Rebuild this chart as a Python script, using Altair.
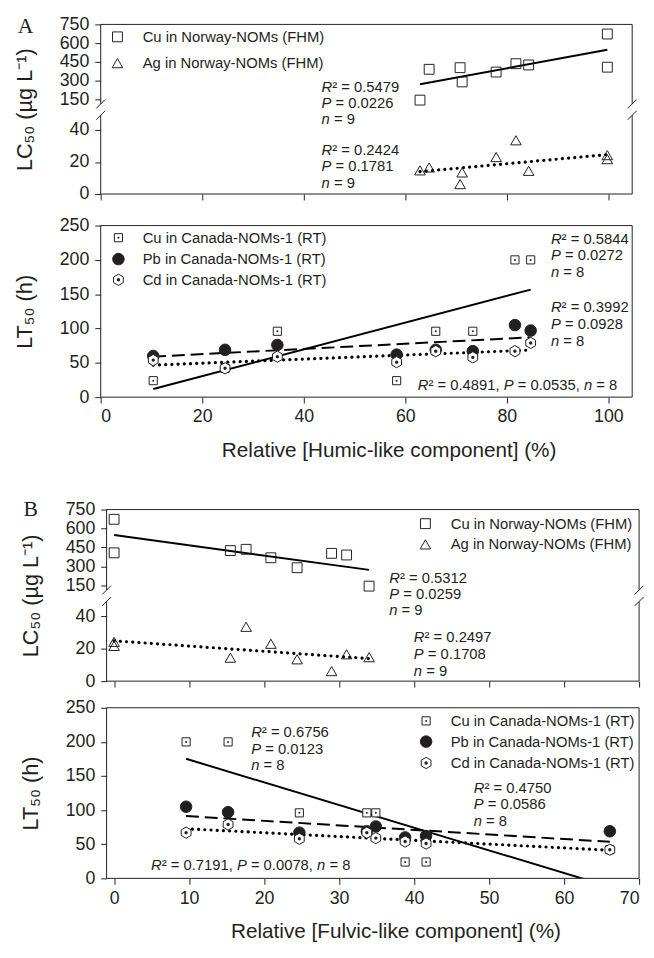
import altair as alt
import pandas as pd

# ---------------- data ----------------
norway_humic = [62.9, 64.7, 70.8, 71.2, 77.9, 81.8, 84.3, 99.8, 99.8]
norway_fulvic = [34.0, 31.0, 29.0, 24.4, 20.9, 17.6, 15.5, 0.0, 0.0]
norway_cu_lc50 = [143, 390, 403, 289, 368, 435, 425, 673, 407]
norway_ag_lc50 = [14.8, 16.6, 6.2, 13.5, 23.1, 33.6, 14.5, 24.3, 21.8]

canada_humic = [10.35, 24.5, 34.8, 58.3, 66.0, 73.3, 81.6, 84.7]
canada_fulvic = [38.8, 66.1, 34.9, 41.6, 33.7, 24.7, 9.6, 15.2]
canada_cu_lt50 = [24, 42, 96, 24, 96, 96, 200, 200]
canada_pb_lt50 = [60, 69, 76, 62, 69, 67, 105, 97]
canada_cd_lt50 = [54, 42, 59, 51, 67, 58, 67, 79]

legend_norway = ["Cu in Norway-NOMs (FHM)", "Ag in Norway-NOMs (FHM)"]
legend_canada = ["Cu in Canada-NOMs-1 (RT)", "Pb in Canada-NOMs-1 (RT)", "Cd in Canada-NOMs-1 (RT)"]

stats_a_cu = ["*R*² = 0.5479", "*P* = 0.0226", "*n* = 9"]
stats_a_ag = ["*R*² = 0.2424", "*P* = 0.1781", "*n* = 9"]
stats_a_lt_cu = ["*R*² = 0.5844", "*P* = 0.0272", "*n* = 8"]
stats_a_lt_pb = ["*R*² = 0.3992", "*P* = 0.0928", "*n* = 8"]
stats_a_lt_cd = ["*R*² = 0.4891, *P* = 0.0535, *n* = 8"]
stats_b_cu = ["*R*² = 0.5312", "*P* = 0.0259", "*n* = 9"]
stats_b_ag = ["*R*² = 0.2497", "*P* = 0.1708", "*n* = 9"]
stats_b_lt_cu = ["*R*² = 0.6756", "*P* = 0.0123", "*n* = 8"]
stats_b_lt_pb = ["*R*² = 0.4750", "*P* = 0.0586", "*n* = 8"]
stats_b_lt_cd = ["*R*² = 0.7191, *P* = 0.0078, *n* = 8"]

lc_ticks_low = [0, 20, 40]
lc_ticks_high = [150, 300, 450, 600, 750]
lt_ticks = [0, 50, 100, 150, 200, 250]
humic_ticks = [0, 20, 40, 60, 80, 100]
fulvic_ticks = [0, 10, 20, 30, 40, 50, 60, 70]

# ---------------- style / layout ----------------
FONT = "Liberation Sans"
SERIF = "Liberation Serif"
INK = "#231f20"
B_SHIFT = 6                      # panel B frame sits 6px right of panel A frame
W_A, W_B = 539, 546
H_A1, H_A2, H_B1, H_B2 = 172, 174, 174, 173
HUMIC_DOM = [0, 104.7]
FULVIC_DOM = [-1 - B_SHIFT / 7.61, 70]

# broken LC50 axis: display coordinate
LOW_K, HIGH_OFF, HIGH_K = 1.625, 96.3, 0.12667
BREAK_LOW, BREAK_HIGH = 80.0, 91.5


def disp(v):
    return v * LOW_K if v < 100 else HIGH_OFF + (v - 150) * HIGH_K


D_MAX = disp(lc_ticks_high[-1]) + 0.01
DISP_EXPR = f"datum.v < 100 ? datum.v * {LOW_K} : {HIGH_OFF} + (datum.v - 150) * {HIGH_K}"
LABEL_EXPR = (f"datum.value < 90 ? format(datum.value / {LOW_K}, '.0f') : "
              f"format(150 + (datum.value - {HIGH_OFF}) / {HIGH_K}, '.0f')")
lc_disp_ticks = [disp(v) for v in lc_ticks_low + lc_ticks_high]

HEX = "M0,-1L0.866,-0.5L0.866,0.5L0,1L-0.866,0.5L-0.866,-0.5Z"
M_SQ_OPEN = dict(shape="square", size=100, filled=False, stroke=INK, strokeWidth=1, opacity=1)
M_TRI = dict(shape="triangle-up", size=115, filled=False, stroke=INK, strokeWidth=1, opacity=1)
M_SQ_DOT = dict(shape="square", size=68, filled=True, fill="white", stroke=INK, strokeWidth=1, opacity=1)
M_CIRC = dict(shape="circle", size=137, filled=True, fill=INK, stroke=INK, strokeWidth=1, opacity=1)
M_HEX = dict(shape=HEX, size=130, filled=True, fill="white", stroke=INK, strokeWidth=1, opacity=1)
DOT_SQ = dict(shape="circle", size=4, filled=True, fill=INK, strokeWidth=0, opacity=1)
DOT_HEX = dict(shape="circle", size=12, filled=True, fill=INK, strokeWidth=0, opacity=1)

L_SOLID = dict(color="#000000", strokeWidth=2)
L_DASH = dict(color="#000000", strokeWidth=2, strokeDash=[13, 6])
L_DOT = dict(color="#000000", strokeWidth=3.2, strokeDash=[0.1, 6.2], strokeCap="round")

CW = {str(d): 0.556 for d in range(10)}
CW.update({".": 0.278, ",": 0.278, " ": 0.278, "=": 0.584, "R": 0.722, "P": 0.667, "n": 0.556, "²": 0.333})
FS_TXT = 15
NOVIEW = alt.ViewBackground(stroke="transparent")
Y_TITLE_PAD = 23


def tw(s, fs):
    return sum(CW.get(c, 0.556) for c in s) * fs


def parse(s):
    parts = s.split("*")
    return [(p, i % 2 == 1) for i, p in enumerate(parts) if p]


def stats_layers(x0, y0, lines, gap, fs=FS_TXT):
    rows = []
    for k, line in enumerate(lines):
        x = x0
        for seg, it in parse(line):
            lead = len(seg) - len(seg.lstrip(" "))
            trail = len(seg) - len(seg.rstrip(" "))
            core = seg.strip(" ")
            x += lead * CW[" "] * fs
            rows.append({"px": x, "py": y0 + k * gap, "t": core, "it": it})
            x += tw(core, fs) + trail * CW[" "] * fs
    df = pd.DataFrame(rows)
    out = []
    for it in (True, False):
        sub = df[df["it"] == it]
        if len(sub):
            out.append(alt.Chart(sub).mark_text(
                align="left", baseline="alphabetic", font=FONT, fontSize=fs,
                fontStyle="italic" if it else "normal", color=INK).encode(
                x=alt.X("px:Q", scale=None), y=alt.Y("py:Q", scale=None), text="t:N"))
    return out


def legend_layers(mx, tx, ys, labels, markers, dots):
    out = []
    for y, lab, mk, dt in zip(ys, labels, markers, dots):
        df = pd.DataFrame({"px": [mx], "tx": [tx], "py": [y], "t": [lab]})
        pos = dict(x=alt.X("px:Q", scale=None), y=alt.Y("py:Q", scale=None))
        out.append(alt.Chart(df).mark_point(**mk).encode(**pos))
        if dt:
            out.append(alt.Chart(df).mark_point(**dt).encode(**pos))
        out.append(alt.Chart(df).mark_text(align="left", baseline="middle", font=FONT,
                                           fontSize=FS_TXT, color=INK).encode(
            x=alt.X("tx:Q", scale=None), y=alt.Y("py:Q", scale=None), text="t:N"))
    return out


def frame(x0, W, H, broken):
    if broken:
        yt = H - BREAK_HIGH * H / D_MAX
        yb = H - BREAK_LOW * H / D_MAX
        s = 4.5
        rows = [(x0, W, 0, 0), (x0, W, H, H),
                (x0, x0, 0, yt), (x0, x0, yb, H), (W, W, 0, yt), (W, W, yb, H),
                (x0 - s, x0 + s, yt + s, yt - s), (x0 - s, x0 + s, yb + s, yb - s),
                (W - s, W + s, yt + s, yt - s), (W - s, W + s, yb + s, yb - s)]
    else:
        rows = [(x0, W, 0, 0), (x0, W, H, H), (x0, x0, 0, H), (W, W, 0, H)]
    df = pd.DataFrame(rows, columns=["x1", "x2", "y1", "y2"])
    return alt.Chart(df).mark_rule(color=INK, strokeWidth=1).encode(
        x=alt.X("x1:Q", scale=None), x2="x2:Q", y=alt.Y("y1:Q", scale=None), y2="y2:Q")


def panel_label(letter, px, py):
    df = pd.DataFrame({"px": [px], "py": [py], "t": [letter]})
    return alt.Chart(df).mark_text(align="left", baseline="top", font=SERIF,
                                   fontSize=22, color=INK).encode(
        x=alt.X("px:Q", scale=None), y=alt.Y("py:Q", scale=None), text="t:N")


def encodings(xdom, xaxis, ydom, yaxis, yfield):
    return dict(x=alt.X("x:Q", scale=alt.Scale(domain=xdom, nice=False, zero=False), axis=xaxis),
                y=alt.Y(f"{yfield}:Q", scale=alt.Scale(domain=ydom, nice=False, zero=False), axis=yaxis))


def series(x, v, enc, marker, line, broken, dot=None, clip_line=False):
    df = pd.DataFrame({"x": x, "v": v})
    lbase = alt.Chart(df).transform_regression("x", "v")
    pbase = alt.Chart(df)
    if broken:
        lbase = lbase.transform_calculate(d=DISP_EXPR)
        pbase = pbase.transform_calculate(d=DISP_EXPR)
    ln = lbase.mark_line(clip=clip_line, **line).encode(**enc)
    pts = [pbase.mark_point(**marker).encode(**enc)]
    if dot:
        pts.append(pbase.mark_point(**dot).encode(**enc))
    return ln, pts


def x_axis(ticks, title=None, title_x=None):
    kw = dict(values=ticks, tickSize=6, domain=False, grid=False, labelOverlap=False)
    if title:
        kw.update(title=title, titleX=title_x, titleAlign="center", titlePadding=14,
                  labelPadding=5, labelFontSize=18)
    else:
        kw.update(title=None, labels=False)
    return alt.Axis(**kw)


def y_lc_axis(x0):
    return alt.Axis(values=lc_disp_ticks, labelExpr=LABEL_EXPR, title="LC₅₀ (µg L⁻¹)", offset=-x0,
                    tickSize=6, domain=False, grid=False, labelPadding=6, titlePadding=Y_TITLE_PAD,
                    labelOverlap=False, labelBound=False, titleFontSize=22)


def y_lt_axis(x0):
    return alt.Axis(values=lt_ticks, title="LT₅₀ (h)", tickSize=6, domain=False, grid=False,
                    offset=-x0, labelPadding=6, titlePadding=Y_TITLE_PAD, labelOverlap=False,
                    titleFontSize=22)


def lc_panel(x0, xvals, xdom, W, H, xt, stats_cu, stats_ag, st_cu_pos, st_ag_pos, leg_pos, letter_pos, letter):
    enc = encodings(xdom, x_axis(xt), [0, D_MAX], y_lc_axis(x0), "d")
    cu_l, cu_p = series(xvals, norway_cu_lc50, enc, M_SQ_OPEN, L_SOLID, True)
    ag_l, ag_p = series(xvals, norway_ag_lc50, enc, M_TRI, L_DOT, True)
    layers = [cu_l, ag_l] + cu_p + ag_p + [frame(x0, W, H, True)]
    layers += stats_layers(x0 + st_cu_pos[0], st_cu_pos[1], stats_cu, st_cu_pos[2])
    layers += stats_layers(x0 + st_ag_pos[0], st_ag_pos[1], stats_ag, st_ag_pos[2])
    layers += legend_layers(x0 + leg_pos[0], x0 + leg_pos[1], leg_pos[2], legend_norway,
                            [M_SQ_OPEN, M_TRI], [None, None])
    layers.append(panel_label(letter, x0 + letter_pos[0], letter_pos[1]))
    return alt.layer(*layers).properties(width=W, height=H, view=NOVIEW)


def lt_panel(x0, xvals, xdom, W, H, xaxis, stats, leg_pos, clip_cu=False):
    enc = encodings(xdom, xaxis, [0, 250], y_lt_axis(x0), "v")
    cu_l, cu_p = series(xvals, canada_cu_lt50, enc, M_SQ_DOT, L_SOLID, False, DOT_SQ, clip_line=clip_cu)
    pb_l, pb_p = series(xvals, canada_pb_lt50, enc, M_CIRC, L_DASH, False)
    cd_l, cd_p = series(xvals, canada_cd_lt50, enc, M_HEX, L_DOT, False, DOT_HEX)
    layers = [cu_l, pb_l, cd_l] + pb_p + cu_p + cd_p + [frame(x0, W, H, False)]
    for (sx, sy, lines, gap) in stats:
        layers += stats_layers(x0 + sx, sy, lines, gap)
    layers += legend_layers(x0 + leg_pos[0], x0 + leg_pos[1], leg_pos[2], legend_canada,
                            [M_SQ_DOT, M_CIRC, M_HEX], [DOT_SQ, None, DOT_HEX])
    return alt.layer(*layers).properties(width=W, height=H, view=NOVIEW)


def gap(h):
    return alt.Chart(pd.DataFrame({"a": [0]})).mark_point(opacity=0).encode(
        x=alt.value(0), y=alt.value(0)).properties(width=1, height=h, view=NOVIEW)


A1 = lc_panel(0, norway_humic, HUMIC_DOM, W_A, H_A1, humic_ticks, stats_a_cu, stats_a_ag,
              (224, 68.6, 16.4), (224, 132.6, 16.4), (17, 42.6, [12.6, 39.3]), (-84, -8.5), "A")
A2 = lt_panel(0, canada_humic, HUMIC_DOM, W_A, H_A2,
              x_axis(humic_ticks, "Relative [Humic-like component] (%)", 292),
              [(456.6, 18.3, stats_a_lt_cu, 17.0), (456.6, 87.7, stats_a_lt_pb, 17.3),
               (321.6, 166.7, stats_a_lt_cd, 17.0)],
              (18, 42.6, [12.3, 34, 55]))
B1 = lc_panel(B_SHIFT, norway_fulvic, FULVIC_DOM, W_B, H_B1, fulvic_ticks, stats_b_cu, stats_b_ag,
              (286.6, 74.3, 16.4), (311.6, 134.3, 17.2), (323.3, 349, [14.3, 35.3]), (-84.4, -10.8), "B")
B2 = lt_panel(B_SHIFT, canada_fulvic, FULVIC_DOM, W_B, H_B2,
              x_axis(fulvic_ticks, "Relative [Fulvic-like component] (%)", 299),
              [(146.6, 30, stats_b_lt_cu, 16.7), (372.3, 86, stats_b_lt_pb, 16.7),
               (45, 164.3, stats_b_lt_cd, 16.7)],
              (324, 349, [13.3, 34.3, 56]), clip_cu=True)

chart = alt.vconcat(A1, gap(32), A2, gap(114), B1, gap(27), B2, spacing=0, bounds="flush").properties(
    padding={"left": 5, "top": 0, "right": 1, "bottom": 1}
).configure_view(stroke="transparent").configure_axis(
    labelFont=FONT, labelFontSize=18, labelColor=INK, titleFont=FONT, titleFontSize=21,
    titleFontWeight="normal", titleColor=INK, tickColor=INK, tickWidth=1
)

chart.save("out.html", embed_options={"renderer": "svg", "actions": False})
